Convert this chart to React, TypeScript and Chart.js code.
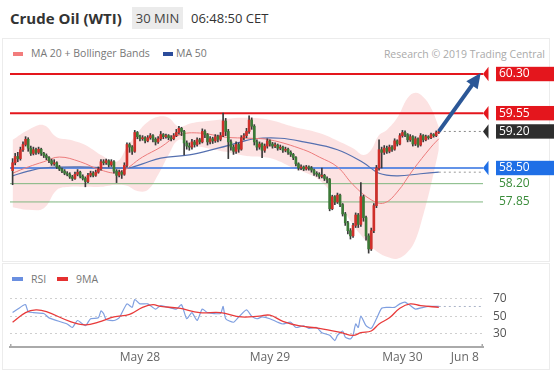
import React, { useEffect, useRef } from "react";
import { Chart, registerables } from "chart.js";
Chart.register(...registerables);

// ---------- DATA ----------
const candleOpen = [
  58.45,58.60,58.72,58.68,58.85,58.95,59.05,58.88,58.78,58.85,
  58.80,58.86,58.78,58.74,58.70,58.64,58.58,58.60,58.52,58.48,
  58.44,58.40,58.38,58.33,58.30,58.38,58.42,58.34,58.30,58.24,
  58.36,58.40,58.36,58.42,58.48,58.62,58.60,58.64,58.56,58.62,
  58.44,58.36,58.42,58.38,58.55,58.95,58.90,58.82,59.18,59.10,
  59.06,59.08,59.02,59.08,59.12,59.05,59.00,59.06,59.14,59.10,
  59.12,59.08,59.06,59.12,59.18,59.26,59.20,58.98,58.92,58.90,
  59.00,58.95,59.04,59.00,59.20,59.14,59.00,59.06,59.02,59.10,
  59.05,59.12,59.40,59.20,59.00,58.90,58.82,58.95,58.86,59.08,
  59.12,59.20,59.42,59.30,59.00,58.90,58.96,58.84,58.92,59.02,
  58.96,58.92,58.94,58.88,58.90,58.84,58.86,58.80,58.76,58.70,
  58.58,58.50,58.52,58.48,58.52,58.50,58.46,58.40,58.38,58.34,
  58.36,58.30,58.28,57.72,57.95,57.85,57.98,57.80,57.62,57.45,
  57.30,57.20,57.40,57.60,57.42,57.95,57.55,57.20,56.95,57.30,
  57.78,58.50,58.85,58.80,58.88,58.82,58.90,58.86,59.02,58.96,
  59.12,59.18,59.14,59.04,59.10,58.96,59.06,58.94,59.12,59.04,
  59.10,59.08,59.14,59.12,59.18,
];
const candleHigh = [
  58.68,58.78,58.80,58.90,59.00,59.10,59.08,58.92,58.90,58.88,
  58.90,58.88,58.80,58.77,58.72,58.67,58.66,58.62,58.55,58.50,
  58.47,58.43,58.41,58.36,58.42,58.47,58.44,58.37,58.33,58.40,
  58.44,58.43,58.46,58.52,58.66,58.66,58.67,58.66,58.66,58.64,
  58.47,58.46,58.45,58.60,58.98,58.98,58.93,59.22,59.20,59.13,
  59.12,59.10,59.12,59.16,59.14,59.08,59.10,59.20,59.16,59.15,
  59.14,59.12,59.16,59.24,59.30,59.28,59.22,59.02,58.98,59.05,
  59.03,59.08,59.07,59.25,59.23,59.16,59.10,59.09,59.14,59.13,
  59.18,59.55,59.45,59.24,59.04,58.94,59.00,58.98,59.12,59.16,
  59.26,59.50,59.46,59.33,59.04,59.00,58.98,58.96,59.06,59.04,
  58.99,58.98,58.96,58.94,58.92,58.90,58.88,58.83,58.78,58.72,
  58.60,58.56,58.54,58.55,58.54,58.53,58.48,58.43,58.41,58.50,
  58.38,58.33,58.30,57.98,57.97,58.02,58.00,57.82,57.65,57.48,
  57.34,57.44,57.64,57.63,58.22,57.98,57.58,57.24,57.35,57.82,
  58.55,59.04,58.90,58.93,58.92,58.94,58.93,59.06,59.04,59.16,
  59.22,59.21,59.16,59.14,59.12,59.10,59.08,59.16,59.14,59.13,
  59.12,59.17,59.16,59.21,59.23,
];
const candleLow = [
  58.18,58.56,58.62,58.65,58.82,58.92,58.82,58.74,58.75,58.76,
  58.77,58.74,58.70,58.66,58.60,58.55,58.55,58.49,58.45,58.41,
  58.37,58.35,58.30,58.26,58.28,58.35,58.31,58.27,58.14,58.22,
  58.33,58.33,58.34,58.40,58.46,58.56,58.57,58.52,58.53,58.40,
  58.22,58.33,58.30,58.36,58.52,58.80,58.76,58.80,59.06,59.02,
  59.03,58.98,59.00,59.05,59.00,58.94,58.97,59.03,59.06,59.07,
  59.04,59.02,59.04,59.10,59.15,59.12,58.75,58.86,58.84,58.86,
  58.90,58.92,58.96,58.98,59.08,58.94,58.96,58.97,58.99,59.00,
  59.02,59.10,59.12,58.68,58.84,58.76,58.78,58.80,58.84,59.04,
  59.08,59.16,59.24,58.94,58.84,58.86,58.70,58.80,58.88,58.92,
  58.88,58.89,58.84,58.85,58.80,58.81,58.76,58.72,58.66,58.54,
  58.46,58.47,58.45,58.46,58.46,58.42,58.36,58.34,58.30,58.31,
  58.26,58.22,57.68,57.70,57.80,57.82,57.76,57.58,57.40,57.24,
  57.14,57.17,57.36,57.36,57.38,57.48,57.12,56.87,56.92,57.26,
  57.74,58.46,58.50,58.76,58.78,58.79,58.82,58.84,58.92,58.94,
  59.09,59.10,59.00,59.01,58.92,58.93,58.90,58.92,59.00,59.02,
  59.05,59.06,59.09,59.10,59.16,
];
const candleClose = [
  58.60,58.72,58.68,58.85,58.95,59.05,58.88,58.78,58.85,58.80,
  58.86,58.78,58.74,58.70,58.64,58.58,58.60,58.52,58.48,58.44,
  58.40,58.38,58.33,58.30,58.38,58.42,58.34,58.30,58.24,58.36,
  58.40,58.36,58.42,58.48,58.62,58.60,58.64,58.56,58.62,58.44,
  58.36,58.42,58.38,58.55,58.95,58.90,58.82,59.18,59.10,59.06,
  59.08,59.02,59.08,59.12,59.05,59.00,59.06,59.14,59.10,59.12,
  59.08,59.06,59.12,59.18,59.26,59.20,58.98,58.92,58.90,59.00,
  58.95,59.04,59.00,59.20,59.14,59.00,59.06,59.02,59.10,59.05,
  59.12,59.40,59.20,59.00,58.90,58.82,58.95,58.86,59.08,59.12,
  59.20,59.42,59.30,59.00,58.90,58.96,58.84,58.92,59.02,58.96,
  58.92,58.94,58.88,58.90,58.84,58.86,58.80,58.76,58.70,58.58,
  58.50,58.52,58.48,58.52,58.50,58.46,58.40,58.38,58.34,58.36,
  58.30,58.28,57.72,57.95,57.85,57.98,57.80,57.62,57.45,57.30,
  57.20,57.40,57.60,57.42,57.95,57.55,57.20,56.95,57.30,57.78,
  58.50,58.85,58.80,58.88,58.82,58.90,58.86,59.02,58.96,59.12,
  59.18,59.14,59.04,59.10,58.96,59.06,58.94,59.12,59.04,59.10,
  59.08,59.14,59.12,59.18,59.20,
];

const bbIdx = [0,6,12,17,22,28,34,40,44,48,52,56,60,64,69,75,82,90,99,108,118,126,131,135,138,141,144,148,152,155,158,161,164];
const bbUpper = [59.04,59.23,59.32,59.09,59.04,58.94,58.75,58.62,58.90,59.17,59.38,59.48,59.46,59.29,59.36,59.40,59.44,59.46,59.42,59.29,59.17,59.00,58.88,58.75,58.85,59.13,59.23,59.46,59.84,59.94,59.86,59.65,59.29];
const bbLower = [57.75,57.70,57.73,58.08,58.14,58.14,58.14,58.18,58.16,58.06,58.08,58.37,58.75,59.04,58.94,58.88,58.81,58.73,58.69,58.50,58.27,57.79,57.41,57.16,56.99,56.87,56.80,56.76,56.89,57.12,57.60,58.18,58.85];

const ma20Idx = [0,6,12,18,26,34,41,50,57,64,72,82,91,99,112,118,125,131,138,143,148,154,161,164];
const ma20Val = [58.40,58.52,58.62,58.71,58.62,58.46,58.42,58.71,58.90,59.13,59.17,59.09,59.07,59.04,58.85,58.71,58.52,58.18,57.89,57.83,58.04,58.46,58.90,59.06];

const ma50Idx = [0,6,12,26,44,50,57,68,79,88,93,103,112,125,135,141,148,157,164];
const ma50Val = [58.35,58.44,58.50,58.52,58.50,58.58,58.69,58.75,58.88,59.00,59.06,59.07,59.00,58.85,58.60,58.40,58.35,58.39,58.42];

const levelValues = [60.30, 59.55, 59.20, 58.50, 58.20, 57.85];
const arrowIdx = [164, 179];
const arrowVal = [59.20, 60.24];

const rsiIdx = [0,2,4,5,6,8,12,14,21,23,25,28,30,33,34,35,36,39,41,44,46,47,49,52,55,57,63,65,67,69,71,73,75,80,81,82,85,87,90,92,94,96,99,102,104,107,109,112,114,117,119,122,124,125,127,128,130,131,132,133,134,136,138,140,142,144,147,149,151,153,155,158,160,164];
const rsiVal = [54,58,62,63,55,54,53,48,41,37,45,39,47,48,56,53,46,45,48,64,60,69,64,64,58,62,58,63,47,54,45,58,54,53,61,47,43,49,57,50,47,49,47,43,41,43,37,39,36,37,31,28,22,28,33,26,24,28,41,37,50,39,36,47,59,60,60,64,66,62,58,60,61,61];

const rsiMaIdx = [0,5,9,13,22,28,33,39,45,50,54,57,64,72,80,88,95,99,104,110,118,126,131,134,138,141,145,149,153,157,164];
const rsiMaVal = [43,54,57,55,44,40,43,49,52,60,63,61,59,54,54,49,50,51,44,39,36,31.5,28,31,33,41,48,59,64,62,60];

const rsiTickValues = [30, 50, 70];
const xTickIdx = [49, 99, 150, 174];
const xTickLabels = ["May 28", "May 29", "May 30", "Jun 8"];

// ---------- STYLE ----------
const X_MIN = -1;
const X_MAX = 181;
const FONT = "'Open Sans', sans-serif";
const UP = "#cf2f2a";
const DOWN = "#3b7a37";
const WICK = "#3a3a3a";
const RED = "#e4161d";
const BLUE_LVL = "#2f6fe0";
const GREEN_LVL = "#7fb77f";
const ARROW = "#2b5797";
const tagBg = [RED, RED, "#2e2e2e", "#1f6fe6", "rgba(0,0,0,0)", "rgba(0,0,0,0)"];
const tagText = ["#ffffff", "#ffffff", "#ffffff", "#ffffff", "#3a8c3a", "#3a8c3a"];
const TAG_PAD = 8;
const TAG_LEFT = 3;

const pts = (idx: number[], val: number[]) => idx.map((x, i) => ({ x, y: val[i] }));
const noPad = (s: any) => { s.paddingTop = 0; s.paddingBottom = 0; };

export default function App() {
  const mainRef = useRef<HTMLCanvasElement>(null);
  const rsiRef = useRef<HTMLCanvasElement>(null);

  useEffect(() => {
    Chart.defaults.font.family = FONT;
    const n = candleClose.length;
    const wickData = candleClose.map((_, i) => ({ x: i, y: [candleLow[i], candleHigh[i]] }));
    const bodyData = candleClose.map((c, i) => ({ x: i, y: [candleOpen[i], c] }));
    const bodyColors = candleClose.map((c, i) => (c >= candleOpen[i] ? UP : DOWN));

    const levelStyle = [
      { c: RED, w: 2 }, { c: RED, w: 2 }, null, { c: BLUE_LVL, w: 1.5 }, { c: GREEN_LVL, w: 1 }, { c: GREEN_LVL, w: 1 },
    ];
    const levelSets: any[] = [];
    levelValues.forEach((v, i) => {
      const s = levelStyle[i];
      if (!s) return;
      levelSets.push({
        type: "line", data: [{ x: X_MIN, y: v }, { x: X_MAX, y: v }],
        borderColor: s.c, borderWidth: s.w, pointRadius: 0, order: 8,
      });
    });

    const lastIdx = n - 1;
    const datasets: any[] = [
      { type: "line", data: pts(bbIdx, bbLower), borderWidth: 0, pointRadius: 0, tension: 0.4, fill: false, order: 12 },
      { type: "line", data: pts(bbIdx, bbUpper), borderWidth: 0, pointRadius: 0, tension: 0.4, fill: "-1", backgroundColor: "rgba(240,110,110,0.2)", order: 11 },
      ...levelSets,
      { type: "line", data: [{ x: lastIdx, y: candleClose[lastIdx] }, { x: X_MAX, y: candleClose[lastIdx] }], borderColor: "#888", borderWidth: 1, borderDash: [2, 3], pointRadius: 0, order: 8 },
      { type: "line", data: [{ x: lastIdx, y: ma50Val[ma50Val.length - 1] }, { x: X_MAX, y: ma50Val[ma50Val.length - 1] }], borderColor: "#999", borderWidth: 1, borderDash: [2, 3], pointRadius: 0, order: 8 },
      { type: "line", data: pts(ma20Idx, ma20Val), borderColor: "#ec7b7b", borderWidth: 1, pointRadius: 0, tension: 0.4, order: 6 },
      { type: "line", data: pts(ma50Idx, ma50Val), borderColor: "#5570b0", borderWidth: 1.2, pointRadius: 0, tension: 0.4, order: 6 },
      { type: "bar", data: wickData, backgroundColor: WICK, barThickness: 1, grouped: false, order: 4 },
      { type: "bar", data: bodyData, backgroundColor: bodyColors, barThickness: 2, minBarLength: 1, grouped: false, order: 3 },
      { type: "line", data: pts(arrowIdx, arrowVal), borderColor: ARROW, borderWidth: 4, pointRadius: 0, order: 1, clip: false },
    ];
    const arrowIndex = datasets.length - 1;

    const mainPlugin = {
      id: "tagsArrow",
      afterDraw(chart: any) {
        const { ctx, chartArea, scales } = chart;
        ctx.save();
        levelValues.forEach((v, i) => {
          if (tagBg[i].startsWith("rgba(0,0,0,0")) return;
          const py = scales.y.getPixelForValue(v);
          const left = chartArea.right + TAG_PAD - TAG_LEFT + 0.5;
          ctx.fillStyle = tagBg[i];
          ctx.beginPath();
          ctx.moveTo(left, py - 7.2);
          ctx.lineTo(chartArea.right, py);
          ctx.lineTo(left, py + 7.2);
          ctx.closePath();
          ctx.fill();
        });
        const meta = chart.getDatasetMeta(arrowIndex);
        const a = meta.data[meta.data.length - 2];
        const b = meta.data[meta.data.length - 1];
        const ang = Math.atan2(b.y - a.y, b.x - a.x);
        const cos = Math.cos(ang), sin = Math.sin(ang);
        const tipX = b.x + 5 * cos, tipY = b.y + 5 * sin;
        const L = 15, W = 7;
        ctx.fillStyle = ARROW;
        ctx.beginPath();
        ctx.moveTo(tipX, tipY);
        ctx.lineTo(tipX - L * cos + W * sin, tipY - L * sin - W * cos);
        ctx.lineTo(tipX - L * cos - W * sin, tipY - L * sin + W * cos);
        ctx.closePath();
        ctx.fill();
        ctx.restore();
      },
    };

    const main = new Chart(mainRef.current!, {
      type: "bar",
      data: { datasets },
      options: {
        animation: false, responsive: false, devicePixelRatio: 1,
        layout: { padding: { left: 10, right: 0, top: 0, bottom: 0 } },
        plugins: { legend: { display: false }, tooltip: { enabled: false } },
        scales: {
          x: { type: "linear", min: X_MIN, max: X_MAX, display: false, offset: false },
          y: {
            position: "right", min: 56.70, max: 60.53,
            grid: { display: false }, border: { display: false },
            afterFit: (s: any) => { s.width = 71; noPad(s); },
            afterBuildTicks: (s: any) => { s.ticks = levelValues.map((v) => ({ value: v })); },
            ticks: {
              autoSkip: false, padding: TAG_PAD,
              font: { family: FONT, size: 12 },
              color: (c: any) => tagText[c.index],
              callback: (v: any) => Number(v).toFixed(2),
              showLabelBackdrop: true,
              backdropColor: (c: any) => tagBg[c.index],
              backdropPadding: { left: TAG_LEFT, right: 32, top: 0, bottom: 0 },
            } as any,
          },
        },
      } as any,
      plugins: [mainPlugin],
    });

    const rsiPlugin = {
      id: "axisEnds",
      afterDraw(chart: any) {
        const { ctx, chartArea } = chart;
        ctx.save();
        ctx.strokeStyle = "#aaa";
        ctx.lineWidth = 1.5;
        [chartArea.left + 0.75, chartArea.right - 0.75].forEach((x: number) => {
          ctx.beginPath();
          ctx.moveTo(x, chartArea.bottom - 3);
          ctx.lineTo(x, chartArea.bottom + 1);
          ctx.stroke();
        });
        ctx.restore();
      },
    };

    const lastRsi = rsiVal[rsiVal.length - 1];
    const rsi = new Chart(rsiRef.current!, {
      type: "line",
      data: {
        datasets: [
          { data: [{ x: rsiIdx[rsiIdx.length - 1], y: lastRsi }, { x: X_MAX, y: lastRsi }], borderColor: "#aab3c8", borderWidth: 1, borderDash: [2, 3], pointRadius: 0, order: 3 },
          { data: pts(rsiIdx, rsiVal), borderColor: "#7f9fe0", borderWidth: 1.2, pointRadius: 0, tension: 0.2, order: 2 },
          { data: pts(rsiMaIdx, rsiMaVal), borderColor: "#e83a3a", borderWidth: 1.3, pointRadius: 0, tension: 0.4, order: 1 },
        ],
      },
      options: {
        animation: false, responsive: false, devicePixelRatio: 1,
        layout: { padding: { left: 10, right: 0, top: 0, bottom: 0 } },
        plugins: { legend: { display: false }, tooltip: { enabled: false } },
        scales: {
          x: {
            type: "linear", min: X_MIN, max: X_MAX, offset: false,
            grid: { display: false, drawTicks: false },
            border: { display: true, color: "#aaa", width: 2 },
            afterFit: (s: any) => { s.height = 29; s.paddingLeft = 0; s.paddingRight = 0; },
            afterBuildTicks: (s: any) => { s.ticks = xTickIdx.map((v) => ({ value: v })); },
            ticks: {
              autoSkip: false, maxRotation: 0, padding: 3,
              font: { family: FONT, size: 12 }, color: "#666",
              callback: (v: any) => xTickLabels[xTickIdx.indexOf(Number(v))] ?? "",
            },
          },
          y: {
            position: "right", min: 14.7, max: 82.1,
            grid: { color: "#cfcfcf", lineWidth: 1, drawTicks: false },
            border: { display: false, dash: [2, 3] },
            afterFit: (s: any) => { s.width = 71; noPad(s); },
            afterBuildTicks: (s: any) => { s.ticks = rsiTickValues.map((v) => ({ value: v })); },
            ticks: { autoSkip: false, padding: 10, font: { family: FONT, size: 12 }, color: "#555" },
          },
        },
      } as any,
      plugins: [rsiPlugin],
    });

    return () => { main.destroy(); rsi.destroy(); };
  }, []);

  const abs = (s: React.CSSProperties): React.CSSProperties => ({ position: "absolute", whiteSpace: "nowrap", ...s });

  return (
    <div style={{ position: "absolute", left: 0, top: 0, width: 554, height: 376, background: "#fff", overflow: "hidden", fontFamily: FONT }}>
      <div style={abs({ left: 10, top: 7, height: 22, lineHeight: "22px", fontSize: 15, fontWeight: 700, color: "#333" })}>Crude Oil (WTI)</div>
      <div style={abs({ left: 132, top: 7, width: 51, height: 22, lineHeight: "22px", fontSize: 13, color: "#444", background: "#ebebeb", textAlign: "center" })}>30 MIN</div>
      <div style={abs({ left: 191, top: 7, height: 22, lineHeight: "22px", fontSize: 13, color: "#333" })}>06:48:50 CET</div>

      <div style={abs({ left: 2, top: 38, width: 548, height: 224, border: "1px solid #ececec", boxSizing: "border-box" })} />
      <div style={abs({ left: 2, top: 263, width: 548, height: 107, border: "1px solid #ececec", boxSizing: "border-box" })} />

      <div style={abs({ left: 13, top: 52, width: 10, height: 4, background: "#f27c7c" })} />
      <div style={abs({ left: 31, top: 46, height: 15, lineHeight: "15px", fontSize: 10.5, color: "#777" })}>MA 20 + Bollinger Bands</div>
      <div style={abs({ left: 163, top: 52, width: 10, height: 4, background: "#2b4c9b" })} />
      <div style={abs({ left: 176, top: 46, height: 15, lineHeight: "15px", fontSize: 10.5, color: "#777" })}>MA 50</div>
      <div style={abs({ right: 9, top: 47, height: 15, lineHeight: "15px", fontSize: 10.5, color: "#aaa" })}>Research © 2019 Trading Central</div>

      <canvas ref={mainRef} width={554} height={200} style={{ position: "absolute", left: 0, top: 62, width: 554, height: 200 }} />

      <div style={abs({ left: 12, top: 277, width: 11, height: 4, background: "#6a8fe0" })} />
      <div style={abs({ left: 31, top: 272, height: 15, lineHeight: "15px", fontSize: 10.5, color: "#777" })}>RSI</div>
      <div style={abs({ left: 57, top: 277, width: 11, height: 4, background: "#e53030" })} />
      <div style={abs({ left: 76, top: 272, height: 15, lineHeight: "15px", fontSize: 10.5, color: "#777" })}>9MA</div>

      <canvas ref={rsiRef} width={554} height={88} style={{ position: "absolute", left: 0, top: 288, width: 554, height: 88 }} />
    </div>
  );
}
